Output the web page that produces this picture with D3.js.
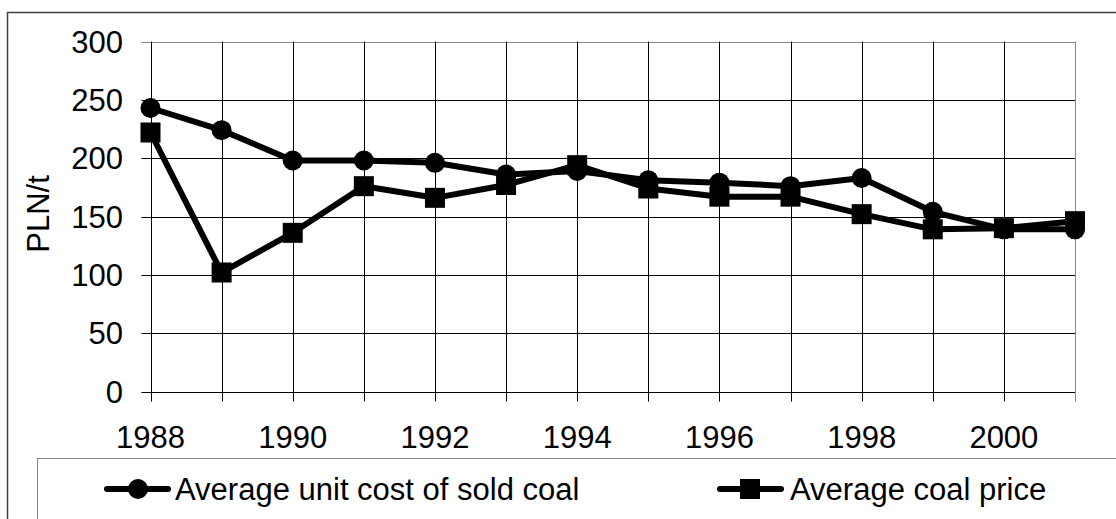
<!DOCTYPE html>
<html>
<head>
<meta charset="utf-8">
<script src="https://cdn.jsdelivr.net/npm/d3@7"></script>
<style>
  body { margin: 0; background: #fff; }
  text { font-family: "Liberation Sans", Arial, sans-serif; fill: #000; font-size: 31px; }
</style>
</head>
<body>
<div id="chart"></div>
<script>
// data
var years = [1988, 1989, 1990, 1991, 1992, 1993, 1994, 1995, 1996, 1997, 1998, 1999, 2000, 2001];
var unitCost = [243, 224, 198, 198, 196, 186, 189, 181, 179, 176, 183, 154, 139, 139];
var coalPrice = [222, 102, 136, 176, 166, 177, 194, 174, 167, 167, 152, 139, 140, 146];
var xTickLabels = [1988, 1990, 1992, 1994, 1996, 1998, 2000];
var yTicks = [0, 50, 100, 150, 200, 250, 300];
var seriesNames = ["Average unit cost of sold coal", "Average coal price"];

var width = 1116, height = 519;
var plot = { left: 150.5, top: 41.5, right: 1075, bottom: 391.5 };

var svg = d3.select("#chart").append("svg")
    .attr("width", width)
    .attr("height", height);

// outer frame
svg.append("rect")
    .attr("x", 7.5).attr("y", 12.5)
    .attr("width", width).attr("height", height)
    .attr("fill", "none").attr("stroke", "#404040").attr("stroke-width", 1.5);

var x = d3.scaleLinear().domain([1988, 2001]).range([plot.left, plot.right]);
var y = d3.scaleLinear().domain([0, 300]).range([plot.bottom, plot.top]);

// horizontal grid
svg.append("g").selectAll("line")
    .data(yTicks)
    .enter().append("line")
    .attr("x1", plot.left - 9).attr("x2", plot.right)
    .attr("y1", function(d) { return Math.round(y(d)) + 0.5; })
    .attr("y2", function(d) { return Math.round(y(d)) + 0.5; })
    .attr("stroke", function(d) { return d === 300 ? "#888" : "#000"; })
    .attr("stroke-width", 1);

// vertical grid
svg.append("g").selectAll("line")
    .data(years)
    .enter().append("line")
    .attr("x1", function(d) { return Math.round(x(d)) + 0.5; })
    .attr("x2", function(d) { return Math.round(x(d)) + 0.5; })
    .attr("y1", plot.top)
    .attr("y2", plot.bottom + 10)
    .attr("stroke", function(d) { return d === 2001 ? "#888" : "#000"; })
    .attr("stroke-width", 1);

// y tick labels
svg.append("g").selectAll("text")
    .data(yTicks)
    .enter().append("text")
    .attr("x", 123)
    .attr("y", function(d) { return y(d) + 11; })
    .attr("text-anchor", "end")
    .text(function(d) { return d; });

// x tick labels
svg.append("g").selectAll("text")
    .data(xTickLabels)
    .enter().append("text")
    .attr("x", function(d) { return x(d); })
    .attr("y", 448)
    .attr("text-anchor", "middle")
    .text(function(d) { return d; });

// y axis title
svg.append("text")
    .attr("transform", "translate(49,214) rotate(-90)")
    .attr("text-anchor", "middle")
    .text("PLN/t");

var line = d3.line()
    .x(function(d, i) { return x(years[i]); })
    .y(function(d) { return y(d); });

// series: cost (circles)
svg.append("path")
    .datum(unitCost)
    .attr("d", line)
    .attr("fill", "none").attr("stroke", "#000").attr("stroke-width", 6)
    .attr("stroke-linejoin", "round");

svg.append("g").selectAll("circle")
    .data(unitCost)
    .enter().append("circle")
    .attr("cx", function(d, i) { return x(years[i]); })
    .attr("cy", function(d) { return y(d); })
    .attr("r", 10)
    .attr("fill", "#000");

// series: price (squares)
svg.append("path")
    .datum(coalPrice)
    .attr("d", line)
    .attr("fill", "none").attr("stroke", "#000").attr("stroke-width", 6)
    .attr("stroke-linejoin", "round");

svg.append("g").selectAll("rect")
    .data(coalPrice)
    .enter().append("rect")
    .attr("x", function(d, i) { return x(years[i]) - 10; })
    .attr("y", function(d) { return y(d) - 10; })
    .attr("width", 20).attr("height", 20)
    .attr("fill", "#000");

// legend box
svg.append("rect")
    .attr("x", 37.5).attr("y", 458.5)
    .attr("width", width).attr("height", 100)
    .attr("fill", "#fff").attr("stroke", "#888").attr("stroke-width", 1);

var legendY = 489;
var legendItems = [
  { name: seriesNames[0], x0: 107, shape: "circle", tx: 175 },
  { name: seriesNames[1], x0: 720, shape: "square", tx: 790 }
];

legendItems.forEach(function(item) {
  svg.append("line")
      .attr("x1", item.x0).attr("x2", item.x0 + 61)
      .attr("y1", legendY).attr("y2", legendY)
      .attr("stroke", "#000").attr("stroke-width", 6).attr("stroke-linecap", "round");
  if (item.shape === "circle") {
    svg.append("circle")
        .attr("cx", item.x0 + 31).attr("cy", legendY).attr("r", 10).attr("fill", "#000");
  } else {
    svg.append("rect")
        .attr("x", item.x0 + 20).attr("y", legendY - 10)
        .attr("width", 20).attr("height", 20).attr("fill", "#000");
  }
  svg.append("text")
      .attr("x", item.tx).attr("y", legendY + 11)
      .text(item.name);
});
</script>
</body>
</html>
